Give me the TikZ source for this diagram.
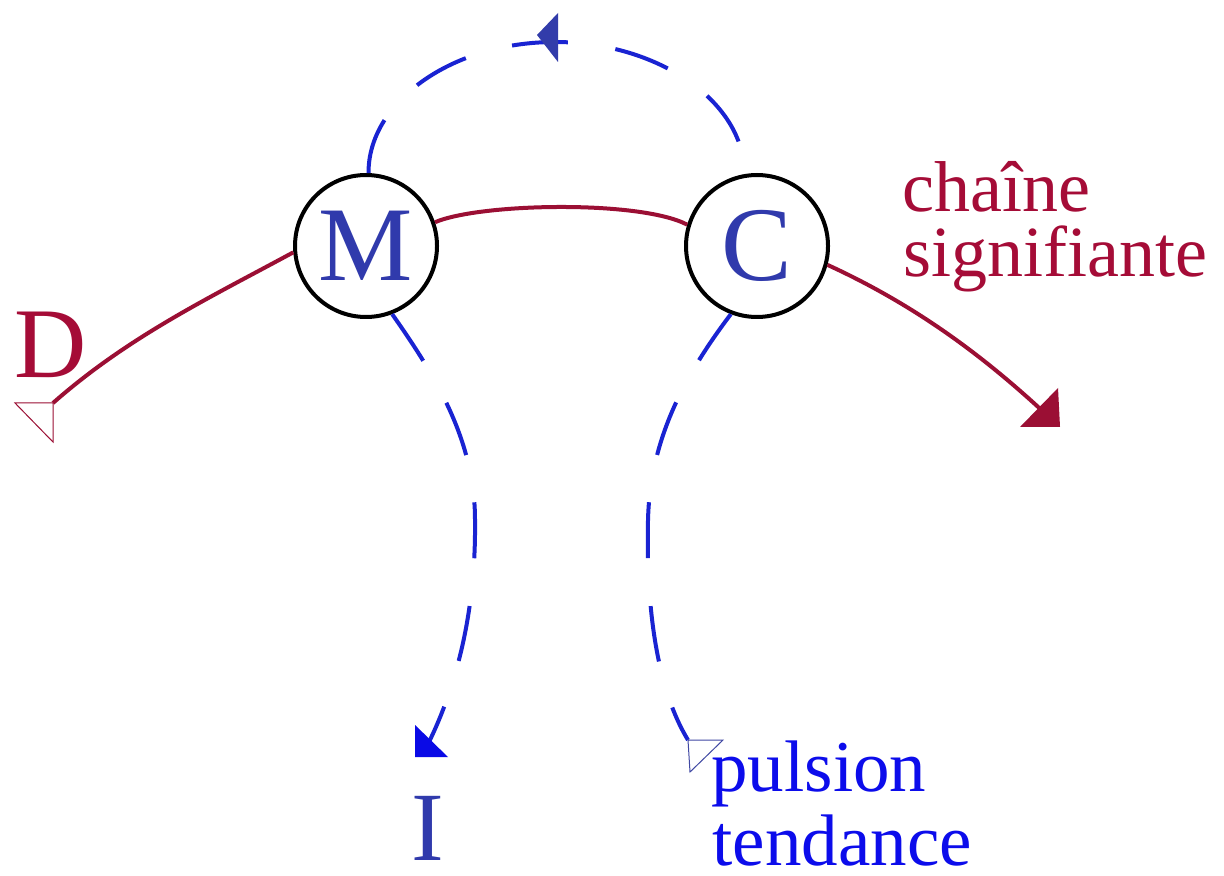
\documentclass[tikz,border=0pt]{standalone}
\usepackage{fontspec}
\setmainfont{Liberation Serif}
\definecolor{redline}{RGB}{155,15,52}
\definecolor{redtext}{RGB}{165,12,55}
\definecolor{letterblue}{RGB}{48,58,172}
\definecolor{dashblue}{RGB}{25,35,210}
\definecolor{textblue}{RGB}{12,12,235}
\definecolor{tipblue}{RGB}{50,60,170}
\definecolor{brightblue}{RGB}{10,10,230}
\tikzset{
  ring/.style={circle, draw=black, line width=2pt, minimum size=71pt, inner sep=0pt,
    text=letterblue, font=\fontsize{53}{60}\selectfont},
  chain/.style={draw=redline, line width=2pt},
  drive/.style={draw=dashblue, line width=2pt, dash pattern=on 28pt off 24pt},
  lbl/.style={inner sep=0pt, anchor=base west},
  opentip/.style={line width=0.5pt, fill=white},
}
\begin{document}
\begin{tikzpicture}[x=0.5pt,y=-0.5pt]
\useasboundingbox[fill=white] (0,0) rectangle (1224,876);
% circles
\node[ring] (M) at (366,246) {M};
\node[ring] (C) at (757,246) {C};
% end coordinates
\coordinate (Dend) at (53,403);
\coordinate (Rend) at (1050,418);
\coordinate (Lend) at (425,750);
\coordinate (Pend) at (688,740);
% red chain
\draw[chain] (Dend) .. controls (128,337) and (207,299) .. (M.185);
\draw[chain] (M.19) .. controls (480,203) and (640,200) .. (C.163);
\draw[chain] (C.-15) .. controls (915,305) and (984,356) .. (Rend);
% red arrow tips
\draw[opentip, draw=redline] (15,403) -- (53,403) -- (53,442) -- cycle;
\fill[redline] (1058,388) -- (1020,427) -- (1060,427) -- cycle;
% blue dashed drives
\draw[drive] (M.88) .. controls (368,102) and (452,42) .. (555,42)
  .. controls (658,42) and (745,102) .. (C.100);
\fill[tipblue] (558,13) -- (537,35) -- (558,62) -- cycle;
\draw[drive] (M.-69) .. controls (435,375) and (475,440) .. (475,520)
  .. controls (476,600) and (461,680) .. (Lend);
\fill[brightblue] (415,725) -- (415,757) -- (448,757) -- cycle;
\draw[drive] (C.-111) .. controls (684,376) and (650,440) .. (648,520)
  .. controls (646,600) and (655,686) .. (Pend);
\draw[opentip, draw=letterblue!80!gray] (688,740) -- (723,740) -- (690,772) -- cycle;
% labels
\node[lbl, text=redtext, font=\fontsize{50}{55}\selectfont] (D) at (14,378) {D};
\node[lbl, text=letterblue, font=\fontsize{49}{55}\selectfont] (I) at (411,860) {I};
\node[lbl, text=redtext, font=\fontsize{36}{40}\selectfont] (chaine) at (902,212) {chaîne};
\node[lbl, text=redtext, font=\fontsize{36}{40}\selectfont] (signif) at (903,277) {signifiante};
\node[lbl, text=textblue, font=\fontsize{36.5}{40}\selectfont] (pulsion) at (711,791) {pulsion};
\node[lbl, text=textblue, font=\fontsize{36.5}{40}\selectfont] (tendance) at (712,865) {tendance};
\end{tikzpicture}
\end{document}
